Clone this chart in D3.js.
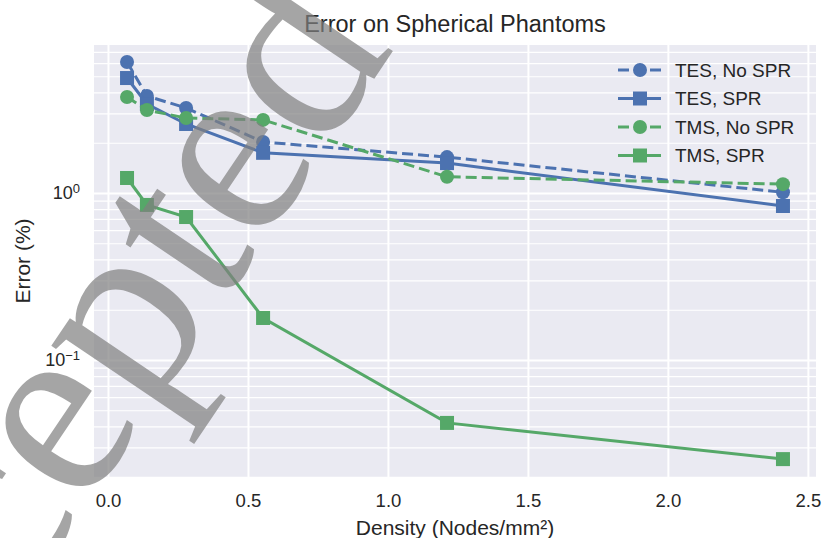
<!DOCTYPE html>
<html>
<head>
<meta charset="utf-8">
<script src="https://cdn.jsdelivr.net/npm/d3@7"></script>
<style>
  body { margin: 0; background: #fff; }
  text { font-family: "Liberation Sans", Arial, sans-serif; fill: #262626; }
</style>
</head>
<body>
<div id="chart"></div>
<script>
var width = 824;
var height = 538;

// values
var density = [0.068, 0.139, 0.279, 0.554, 1.211, 2.411];
var tesNoSpr = [6.09, 3.81, 3.23, 2.02, 1.64, 1.01];
var tesSpr = [4.88, 3.41, 2.59, 1.74, 1.51, 0.836];
var tmsNoSpr = [3.76, 3.14, 2.81, 2.74, 1.25, 1.13];
var tmsSpr = [1.23, 0.848, 0.718, 0.1785, 0.042, 0.0255];
var seriesNames = ["TES, No SPR", "TES, SPR", "TMS, No SPR", "TMS, SPR"];
var xTicks = [0, 0.5, 1.0, 1.5, 2.0, 2.5];
var yMajor = [0.1, 1];
var yMinor = [0.02, 0.03, 0.04, 0.05, 0.06, 0.07, 0.08, 0.09,
              0.2, 0.3, 0.4, 0.5, 0.6, 0.7, 0.8, 0.9, 2, 3, 4, 5, 6, 7];

var blue = "#4c72b0", green = "#55a868";
var series = [
    { name: seriesNames[0], values: tesNoSpr, color: blue, dash: "11,5", marker: "circle" },
    { name: seriesNames[1], values: tesSpr, color: blue, dash: null, marker: "square" },
    { name: seriesNames[2], values: tmsNoSpr, color: green, dash: "11,5", marker: "circle" },
    { name: seriesNames[3], values: tmsSpr, color: green, dash: null, marker: "square" }
];

var plotL = 94, plotR = 816, plotT = 45, plotB = 477;

var svg = d3.select("#chart").append("svg")
    .attr("width", width)
    .attr("height", height);

var x = d3.scaleLinear().domain([-0.05, 2.529]).range([plotL, plotR]);
var y = d3.scaleLog().domain([Math.pow(10, -284 / 167), Math.pow(10, 148 / 167)]).range([plotB, plotT]);

svg.append("rect")
    .attr("x", plotL).attr("y", plotT)
    .attr("width", plotR - plotL).attr("height", plotB - plotT)
    .attr("fill", "#eaeaf2");

// minor horizontal grid
svg.append("g")
    .attr("transform", "translate(" + plotL + ",0)")
    .call(d3.axisLeft(y).tickValues(yMinor).tickSize(-(plotR - plotL)).tickFormat(""))
    .call(function(g) {
        g.select(".domain").remove();
        g.selectAll("line").attr("stroke", "#fff").attr("stroke-width", 1.2);
    });

// major horizontal grid + labels
var yAxis = svg.append("g")
    .attr("transform", "translate(" + plotL + ",0)")
    .call(d3.axisLeft(y).tickValues(yMajor).tickSize(-(plotR - plotL)).tickPadding(14).tickFormat(""));
yAxis.select(".domain").remove();
yAxis.selectAll("line").attr("stroke", "#fff").attr("stroke-width", 2);
yAxis.selectAll(".tick text")
    .attr("font-size", 18)
    .attr("dy", "0.32em")
    .each(function(d) {
        var t = d3.select(this);
        t.append("tspan").text("10");
        t.append("tspan").attr("dy", "-0.45em").attr("font-size", 13)
            .text(d === 1 ? "0" : "\u22121");
    });

// vertical grid + x labels
var xAxis = svg.append("g")
    .attr("transform", "translate(0," + plotB + ")")
    .call(d3.axisBottom(x).tickValues(xTicks).tickSize(-(plotB - plotT)).tickPadding(17)
        .tickFormat(d3.format(".1f")));
xAxis.select(".domain").remove();
xAxis.selectAll("line").attr("stroke", "#fff").attr("stroke-width", 2);
xAxis.selectAll(".tick text").attr("font-size", 18.5);

// lines and markers
var line = d3.line()
    .x(function(d, i) { return x(density[i]); })
    .y(function(d) { return y(d); });

series.forEach(function(s) {
    var g = svg.append("g");
    g.append("path")
        .attr("d", line(s.values))
        .attr("fill", "none")
        .attr("stroke", s.color)
        .attr("stroke-width", 3)
        .attr("stroke-dasharray", s.dash);
    drawMarkers(g, s, s.values.map(function(v, i) { return [x(density[i]), y(v)]; }));
});

function drawMarkers(g, s, pts) {
    if (s.marker === "circle") {
        g.selectAll("circle").data(pts).enter().append("circle")
            .attr("cx", function(p) { return p[0]; })
            .attr("cy", function(p) { return p[1]; })
            .attr("r", 7)
            .attr("fill", s.color);
    } else {
        g.selectAll("rect").data(pts).enter().append("rect")
            .attr("x", function(p) { return p[0] - 7; })
            .attr("y", function(p) { return p[1] - 7; })
            .attr("width", 14).attr("height", 14)
            .attr("fill", s.color);
    }
}

// legend
var legend = svg.append("g");
series.forEach(function(s, i) {
    var ly = 70 + i * 28.5;
    var row = legend.append("g");
    row.append("line")
        .attr("x1", 618).attr("x2", 661)
        .attr("y1", ly).attr("y2", ly)
        .attr("stroke", s.color)
        .attr("stroke-width", 3)
        .attr("stroke-dasharray", s.dash);
    drawMarkers(row, s, [[640, ly]]);
    row.append("text")
        .attr("x", 675).attr("y", ly)
        .attr("dy", "0.35em")
        .attr("font-size", 19)
        .text(s.name);
});

// title and axis labels
svg.append("text")
    .attr("x", (plotL + plotR) / 2).attr("y", 32)
    .attr("text-anchor", "middle")
    .attr("font-size", 23.5)
    .text("Error on Spherical Phantoms");

svg.append("text")
    .attr("x", (plotL + plotR) / 2).attr("y", 535)
    .attr("text-anchor", "middle")
    .attr("font-size", 21)
    .text("Density (Nodes/mm\u00b2)");

svg.append("text")
    .attr("transform", "translate(30," + (plotT + plotB) / 2 + ") rotate(-90)")
    .attr("text-anchor", "middle")
    .attr("font-size", 21)
    .text("Error (%)");

// watermark
svg.append("text")
    .attr("transform", "translate(-150,856) rotate(-56)")
    .style("font-family", "'Liberation Serif', 'Times New Roman', serif")
    .attr("font-size", 258)
    .style("fill", "#808080")
    .attr("opacity", 0.7)
    .text("Accepted");
</script>
</body>
</html>
